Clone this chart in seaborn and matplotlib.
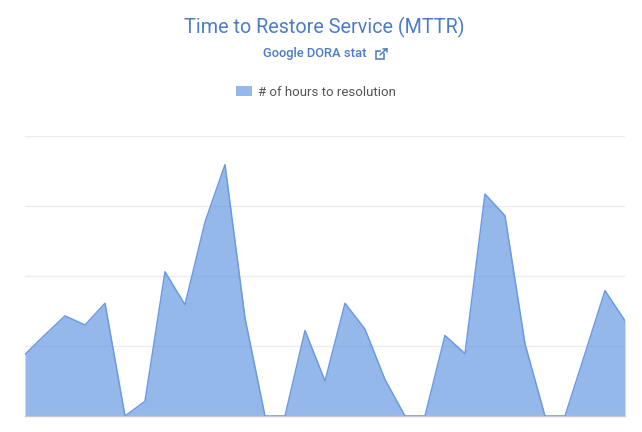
import seaborn as sns
import matplotlib
matplotlib.use("Agg")
import matplotlib.pyplot as plt
from matplotlib.lines import Line2D
from matplotlib.patches import Patch, Rectangle
import pandas as pd

# hours per period (gridlines taken as every 10 hours)
periods = list(range(31))
hours = [8.8, 11.6, 14.3, 13.0, 16.1, 0, 2.1, 20.6, 15.9, 27.7, 35.9, 14.0, 0, 0, 12.2, 5.0,
         16.1, 12.4, 5.2, 0, 0, 11.5, 8.9, 31.7, 28.6, 10.3, 0, 0, 8.9, 17.9, 13.6]
y_ticks = [0, 10, 20, 30, 40]

title = "Time to Restore Service (MTTR)"
subtitle = "Google DORA stat"
series_name = "# of hours to resolution"

line_blue = "#6a9ae4"
area_blue = "#4e89df"
legend_blue = "#95b8ec"
text_blue = "#4a7cc8"

W, H = 642, 432

sns.set_theme(style="white")
plt.rcParams["font.family"] = ["Roboto", "DejaVu Sans"]

df = pd.DataFrame({"period": periods, "hours": hours})

fig = plt.figure(figsize=(W / 100, H / 100), dpi=100)
ax = fig.add_axes([25 / W, (H - 416) / H, 600 / W, 280 / H])

sns.lineplot(data=df, x="period", y="hours", color=line_blue, linewidth=1.1, ax=ax, zorder=3)
ax.fill_between(df["period"], df["hours"], color=area_blue, linewidth=0, alpha=0.6, zorder=2)

ax.set_xlim(periods[0], periods[-1])
ax.set_ylim(y_ticks[0], y_ticks[-1])
ax.set_yticks(y_ticks)
ax.set_xticks([])
ax.set_xlabel("")
ax.set_ylabel("")
ax.tick_params(left=False, labelleft=False)
ax.grid(axis="y", color="#ebebf1", linewidth=1, zorder=1)
ax.set_axisbelow(True)
sns.despine(ax=ax, left=True, top=True, right=True)
ax.spines["bottom"].set_color("#c4c8d0")
ax.spines["bottom"].set_linewidth(1)

fig.text(324.5 / W, 1 - 27 / H, title, color=text_blue, fontsize=14.2, ha="center", va="center")
fig.text(315 / W, 1 - 53.5 / H, subtitle, color=text_blue, fontsize=9.3, fontweight="medium",
         ha="center", va="center")

# little "open in new tab" icon beside the subtitle
fig.add_artist(Rectangle((376 / W, 1 - 59 / H), 8.5 / W, 8.5 / H, transform=fig.transFigure,
                         fill=False, edgecolor=text_blue, linewidth=1.1))
fig.add_artist(Rectangle((381 / W, 1 - 52.5 / H), 5 / W, 5 / H, transform=fig.transFigure,
                         facecolor="white", edgecolor="none"))
fig.add_artist(Line2D([380 / W, 387 / W], [1 - 55 / H, 1 - 48.5 / H], transform=fig.transFigure,
                      color=text_blue, linewidth=1.1))
fig.add_artist(Line2D([383 / W, 387 / W, 387 / W], [1 - 48.5 / H, 1 - 48.5 / H, 1 - 52 / H],
                      transform=fig.transFigure, color=text_blue, linewidth=1.1))

handle = Patch(facecolor=legend_blue, edgecolor="none", label=series_name)
fig.legend(handles=[handle], loc="center", bbox_to_anchor=(316 / W, 1 - 92.5 / H), frameon=False,
           fontsize=9.5, labelcolor="#555555", handlelength=1.2, handleheight=0.8,
           handletextpad=0.45, borderpad=0)

fig.savefig("out.png", dpi=100, facecolor="white")
